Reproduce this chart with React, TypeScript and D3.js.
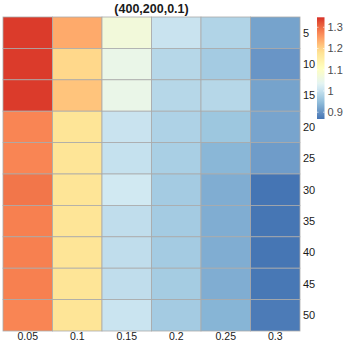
import { useRef, useEffect } from "react";
import * as d3 from "d3";

const cols = ["0.05", "0.1", "0.15", "0.2", "0.25", "0.3"];
const rows = ["5", "10", "15", "20", "25", "30", "35", "40", "45", "50"];
// one array per column, values top (5) to bottom (50)
const c005 = [1.34, 1.34, 1.34, 1.275, 1.275, 1.29, 1.28, 1.28, 1.28, 1.275];
const c010 = [1.24, 1.195, 1.215, 1.175, 1.175, 1.175, 1.175, 1.175, 1.175, 1.175];
const c015 = [1.07, 1.05, 1.05, 1.004, 1.0, 1.012, 0.995, 0.995, 0.995, 1.005];
const c020 = [1.004, 0.985, 0.985, 0.977, 0.972, 0.967, 0.967, 0.967, 0.968, 0.967];
const c025 = [0.98, 0.967, 0.985, 0.96, 0.94, 0.929, 0.929, 0.929, 0.929, 0.937];
const c030 = [0.918, 0.904, 0.918, 0.92, 0.911, 0.868, 0.869, 0.869, 0.871, 0.875];
const legendTicks = [0.9, 1, 1.1, 1.2, 1.3];
const palette = ["#4575B4", "#91BFDB", "#E0F3F8", "#FFFFBF", "#FEE090", "#FC8D59", "#D73027"];
const title = "(400,200,0.1)";

const values = [c005, c010, c015, c020, c025, c030];

export default function App() {
  const legRef = useRef<SVGGElement>(null);
  const W = 345, H = 345;
  const grid = { left: 3, top: 17, right: 300, bottom: 331 };
  const domain: [number, number] = [0.868, 1.347];

  const x = d3.scaleBand().domain(cols).range([grid.left, grid.right]);
  const y = d3.scaleBand().domain(rows).range([grid.top, grid.bottom]);
  const color = d3
    .scaleSequential(d3.piecewise(d3.interpolateLab, palette))
    .domain(domain);

  const leg = { x: 317, w: 7.5, top: 17.3, bottom: 119 };
  const ly = d3.scaleLinear().domain(domain).range([leg.bottom, leg.top]);

  useEffect(() => {
    const g = d3.select(legRef.current);
    g.selectAll("*").remove();
    const stops = d3.range(0, 1.0001, 0.05);
    const defs = g.append("defs");
    const lg = defs
      .append("linearGradient")
      .attr("id", "legGrad")
      .attr("x1", 0)
      .attr("x2", 0)
      .attr("y1", 1)
      .attr("y2", 0);
    stops.forEach((s) => {
      lg.append("stop")
        .attr("offset", s)
        .attr("stop-color", color(domain[0] + s * (domain[1] - domain[0])));
    });
    g.append("rect")
      .attr("x", leg.x)
      .attr("y", leg.top)
      .attr("width", leg.w)
      .attr("height", leg.bottom - leg.top)
      .attr("fill", "url(#legGrad)");
    legendTicks.forEach((t) => {
      g.append("line")
        .attr("x1", leg.x)
        .attr("x2", leg.x + 1.5)
        .attr("y1", ly(t))
        .attr("y2", ly(t))
        .attr("stroke", "white")
        .attr("stroke-width", 0.6);
      g.append("line")
        .attr("x1", leg.x + leg.w - 1.5)
        .attr("x2", leg.x + leg.w)
        .attr("y1", ly(t))
        .attr("y2", ly(t))
        .attr("stroke", "white")
        .attr("stroke-width", 0.6);
      g.append("text")
        .attr("x", leg.x + leg.w + 3)
        .attr("y", ly(t))
        .attr("dy", "0.35em")
        .attr("font-size", 11)
        .attr("fill", "#4d4d4d")
        .text(String(t));
    });
  }, []);

  return (
    <svg
      width={W}
      height={H}
      style={{ position: "absolute", left: 0, top: 0, background: "white" }}
      fontFamily="Liberation Sans, Arial, sans-serif"
    >
      <text
        x={(grid.left + grid.right) / 2}
        y={12.5}
        textAnchor="middle"
        fontSize={12.5}
        fontWeight="bold"
        fill="#1a1a1a"
      >
        {title}
      </text>
      <g>
        {values.map((col, i) =>
          col.map((v, j) => (
            <rect
              key={`${i}-${j}`}
              x={x(cols[i])}
              y={y(rows[j])}
              width={x.bandwidth()}
              height={y.bandwidth()}
              fill={color(v)}
              stroke="#aaaaaa"
              strokeWidth={0.8}
            />
          ))
        )}
      </g>
      <g>
        {rows.map((r) => (
          <text
            key={r}
            x={grid.right + 3}
            y={(y(r) ?? 0) + y.bandwidth() / 2}
            dy="0.35em"
            fontSize={11}
            fill="#1a1a1a"
          >
            {r}
          </text>
        ))}
        {cols.map((c) => (
          <text
            key={c}
            x={(x(c) ?? 0) + x.bandwidth() / 2}
            y={grid.bottom + 2}
            dy="0.71em"
            textAnchor="middle"
            fontSize={10.5}
            fill="#1a1a1a"
          >
            {c}
          </text>
        ))}
      </g>
      <g ref={legRef} />
    </svg>
  );
}
